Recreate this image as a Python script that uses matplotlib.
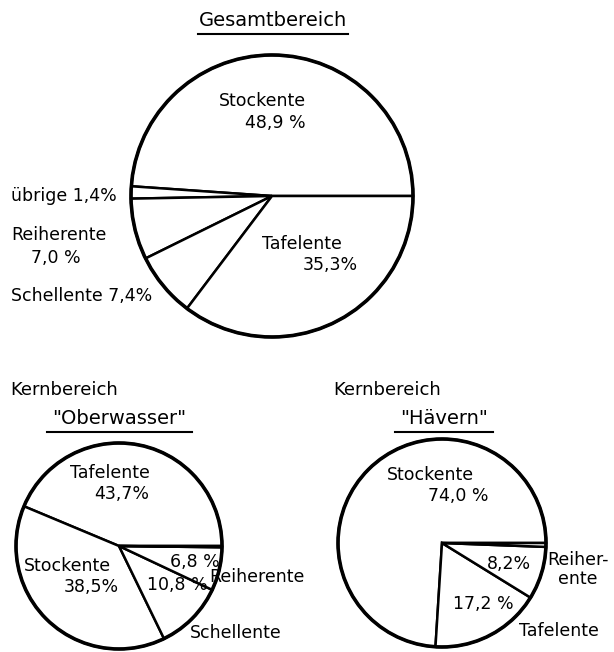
import matplotlib.pyplot as plt
from matplotlib.patches import Circle

plt.rcParams['font.family'] = ['DejaVu Sans']

# Daten (Anteile in %)
ges_labels = ['Stockente', 'übrige', 'Reiherente', 'Schellente', 'Tafelente']
ges_values = [48.9, 1.4, 7.0, 7.4, 35.3]

ober_labels = ['Tafelente', 'Stockente', 'Schellente', 'Reiherente', 'Rest']
ober_values = [43.7, 38.5, 10.8, 6.8, 0.2]

haev_labels = ['Stockente', 'Tafelente', 'Reiherente', 'Rest']
haev_values = [74.0, 17.2, 8.2, 0.6]

W, H = 614, 652
fig = plt.figure(figsize=(W / 100, H / 100), dpi=100)
ax = fig.add_axes([0, 0, 1, 1])


def y(p):
    # Pixelzeile (von oben) -> Datenkoordinate
    return H - p


def torte(values, cx, cy, r):
    ax.pie(values, center=(cx, y(cy)), radius=r, startangle=0, counterclock=True,
           colors=['white'] * len(values),
           wedgeprops=dict(edgecolor='black', linewidth=1.8), frame=True)
    ax.add_patch(Circle((cx, y(cy)), r, fill=False, edgecolor='black', linewidth=2.6, zorder=5))


torte(ges_values, 272, 196, 141)
torte(ober_values, 119, 546, 103)
torte(haev_values, 442, 543, 104)

# pie() setzt die Achsen neu -> wieder festlegen
ax.set_xlim(0, W)
ax.set_ylim(0, H)
ax.set_aspect('equal')
ax.axis('off')

fs = 12.5
txt = dict(fontsize=fs, va='center', color='black')
tit = dict(fontsize=14, va='center', color='black')

# Titel
ax.text(273, y(21), 'Gesamtbereich', ha='center', **tit)
ax.plot([198, 348], [y(34), y(34)], color='black', lw=1.5)
ax.text(10, y(390), 'Kernbereich', ha='left', fontsize=13, va='center')
ax.text(119, y(418), '"Oberwasser"', ha='center', **tit)
ax.plot([47, 192], [y(432), y(432)], color='black', lw=1.5)
ax.text(333, y(390), 'Kernbereich', ha='left', fontsize=13, va='center')
ax.text(444, y(418), '"Hävern"', ha='center', **tit)
ax.plot([395, 493], [y(432), y(432)], color='black', lw=1.5)

# Gesamtbereich
ax.text(262, y(101), ges_labels[0], ha='center', **txt)
ax.text(275, y(123), '48,9 %', ha='center', **txt)
ax.text(302, y(244), ges_labels[4], ha='center', **txt)
ax.text(330, y(265), '35,3%', ha='center', **txt)
ax.text(11, y(196), ges_labels[1] + ' 1,4%', ha='left', **txt)
ax.text(11, y(235), ges_labels[2], ha='left', **txt)
ax.text(56, y(258), '7,0 %', ha='center', **txt)
ax.text(11, y(296), ges_labels[3] + ' 7,4%', ha='left', **txt)

# Oberwasser
ax.text(110, y(473), ober_labels[0], ha='center', **txt)
ax.text(122, y(494), '43,7%', ha='center', **txt)
ax.text(67, y(566), ober_labels[1], ha='center', **txt)
ax.text(91, y(587), '38,5%', ha='center', **txt)
ax.text(195, y(562), '6,8 %', ha='center', **txt)
ax.text(177, y(585), '10,8 %', ha='center', **txt)
ax.text(209, y(577), ober_labels[3], ha='left', **txt)
ax.text(190, y(633), ober_labels[2], ha='left', **txt)

# Hävern
ax.text(430, y(475), haev_labels[0], ha='center', **txt)
ax.text(458, y(496), '74,0 %', ha='center', **txt)
ax.text(509, y(564), '8,2%', ha='center', **txt)
ax.text(578, y(560), 'Reiher-', ha='center', **txt)
ax.text(578, y(579), 'ente', ha='center', **txt)
ax.text(483, y(604), '17,2 %', ha='center', **txt)
ax.text(559, y(631), haev_labels[1], ha='center', **txt)

fig.savefig('out.png', dpi=100)
